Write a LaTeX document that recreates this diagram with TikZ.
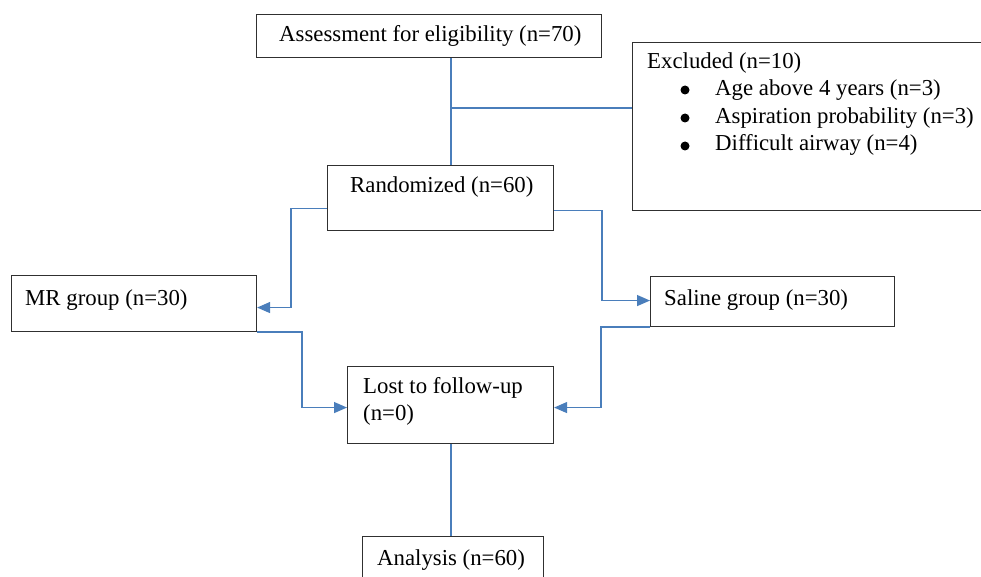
\documentclass[tikz,border=0pt]{standalone}
\usepackage{fontspec}
\setmainfont{Liberation Serif}
\usetikzlibrary{arrows.meta}
\definecolor{conn}{HTML}{4A7EBB}
\definecolor{boxline}{HTML}{303030}
\begin{document}
\begin{tikzpicture}[x=1pt,y=-1pt,
  boxn/.style={draw=boxline,line width=1.1pt,anchor=north west,inner sep=0pt,minimum width=#1},
  txt/.style={anchor=base west,inner sep=0pt,font=\fontsize{22.8}{27.5}\selectfont},
  bul/.style={circle,fill=black,inner sep=0pt,minimum size=9pt},
  conline/.style={draw=conn,line width=1.3pt},
  arr/.style={conline,-{Triangle[length=13pt,width=11pt]}}]
\useasboundingbox (0,0) rectangle (981,577);
\clip (0,0) rectangle (981,577);
% boxes
\node[boxn=345pt,minimum height=43pt] (assess) at (256,14) {};
\node[boxn=400pt,minimum height=168pt] (excl) at (632,42) {};
\node[boxn=226pt,minimum height=65pt] (rand) at (327,165) {};
\node[boxn=245pt,minimum height=56pt] (mr) at (11,275) {};
\node[boxn=244pt,minimum height=50pt] (saline) at (650,276) {};
\node[boxn=206pt,minimum height=77pt] (lost) at (347,366) {};
\node[boxn=181pt,minimum height=60pt] (anal) at (362,536) {};
% texts
\node[txt] (tassess) at (279,42) {Assessment for eligibility (n=70)};
\node[txt] (texcl) at (647,69) {Excluded (n=10)};
\node[bul] (b1) at (685,90) {};
\node[txt] (te1) at (715,96) {Age above 4 years (n=3)};
\node[bul] (b2) at (685,118) {};
\node[txt] (te2) at (715,124) {Aspiration probability (n=3)};
\node[bul] (b3) at (685,146) {};
\node[txt] (te3) at (715,151) {Difficult airway (n=4)};
\node[txt] (trand) at (350,193) {Randomized (n=60)};
\node[txt] (tmr) at (25,305) {MR group (n=30)};
\node[txt] (tsal) at (664,305) {Saline group (n=30)};
\node[txt] (tlost1) at (363,393) {Lost to follow-up};
\node[txt] (tlost2) at (363,420) {(n=0)};
\node[txt] (tanal) at (377,565) {Analysis (n=60)};
% connectors
\coordinate (vx) at (451,0);
\coordinate (jx) at (451,108);
\draw[conline] (vx |- assess.south) -- (vx |- rand.north);
\draw[conline] (jx) -- (jx -| excl.west);
\draw[arr] ([yshift=-10.5pt]rand.west) -- ++(-36,0) |- ([yshift=-4pt]mr.east);
\draw[arr] ([yshift=-12.5pt]rand.east) -- ++(48,0) |- ([yshift=1pt]saline.west);
\draw[arr] (mr.south east) -- ++(45,0) |- ([yshift=-2.5pt]lost.west);
\draw[arr] (saline.south west) -- ++(-49,0) |- ([yshift=-2.5pt]lost.east);
\draw[conline] (vx |- lost.south) -- (vx |- anal.north);
\end{tikzpicture}
\end{document}
